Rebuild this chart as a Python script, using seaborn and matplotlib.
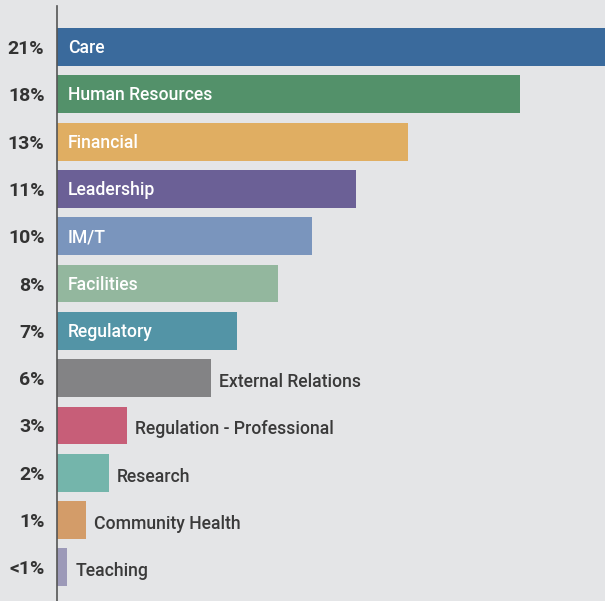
import matplotlib
matplotlib.use("Agg")
import matplotlib.pyplot as plt
import seaborn as sns
import pandas as pd
from matplotlib.transforms import offset_copy

categories = ["Care", "Human Resources", "Financial", "Leadership", "IM/T",
              "Facilities", "Regulatory", "External Relations",
              "Regulation - Professional", "Research", "Community Health",
              "Teaching"]
shares = [21.3, 17.8, 13.49, 11.49, 9.8, 8.49, 6.93, 5.93, 2.7, 2.0, 1.1, 0.4]
share_labels = ["21%", "18%", "13%", "11%", "10%", "8%", "7%", "6%",
                "3%", "2%", "1%", "<1%"]
colors = ["#3a6a9c", "#53916a", "#e0ae62", "#6b6096", "#7a95bd", "#93b79e",
          "#5394a6", "#838385", "#c75e78", "#74b5ab", "#d39c69", "#9c99b8"]

bg = "#e4e5e7"
sns.set_theme(style="white")
plt.rcParams["font.family"] = ["Roboto", "DejaVu Sans"]

df = pd.DataFrame({"category": categories, "share": shares})

fig = plt.figure(figsize=(6.05, 6.01), dpi=100, facecolor=bg)
ax = fig.add_axes([57 / 605, 0, 548 / 605, 595 / 601])
ax.set_facecolor(bg)

sns.barplot(data=df, x="share", y="category", hue="category",
            palette=colors, order=categories, hue_order=categories,
            orient="h", width=0.8, legend=False, ax=ax, saturation=1,
            linewidth=0, edgecolor="none")

ax.set_xlim(0, 21.08)
ax.set_ylim(11.71, -0.867)

for s in ["top", "right", "bottom"]:
    ax.spines[s].set_visible(False)
ax.spines["left"].set_color("#555555")
ax.spines["left"].set_linewidth(1.2)
ax.set_xticks([])
ax.set_xlabel("")
ax.set_ylabel("")
ax.set_yticks(range(len(categories)))
ax.set_yticklabels(share_labels, fontsize=14, fontweight="bold",
                   color="#333333")
ax.tick_params(axis="y", length=0, pad=9)

inside = offset_copy(ax.transData, fig=fig, x=11, y=-1, units="dots")
outside = offset_copy(ax.transData, fig=fig, x=8, y=-4, units="dots")
for i, (name, val) in enumerate(zip(categories, shares)):
    if val >= 6.5:
        ax.text(0, i, name, transform=inside, ha="left", va="center",
                fontsize=12.7, fontweight="medium", color="white")
    else:
        ax.text(val, i, name, transform=outside, ha="left", va="center",
                fontsize=12.7, fontweight="medium", color="#3a3a3a")

fig.savefig("out.png", dpi=100, facecolor=bg)
